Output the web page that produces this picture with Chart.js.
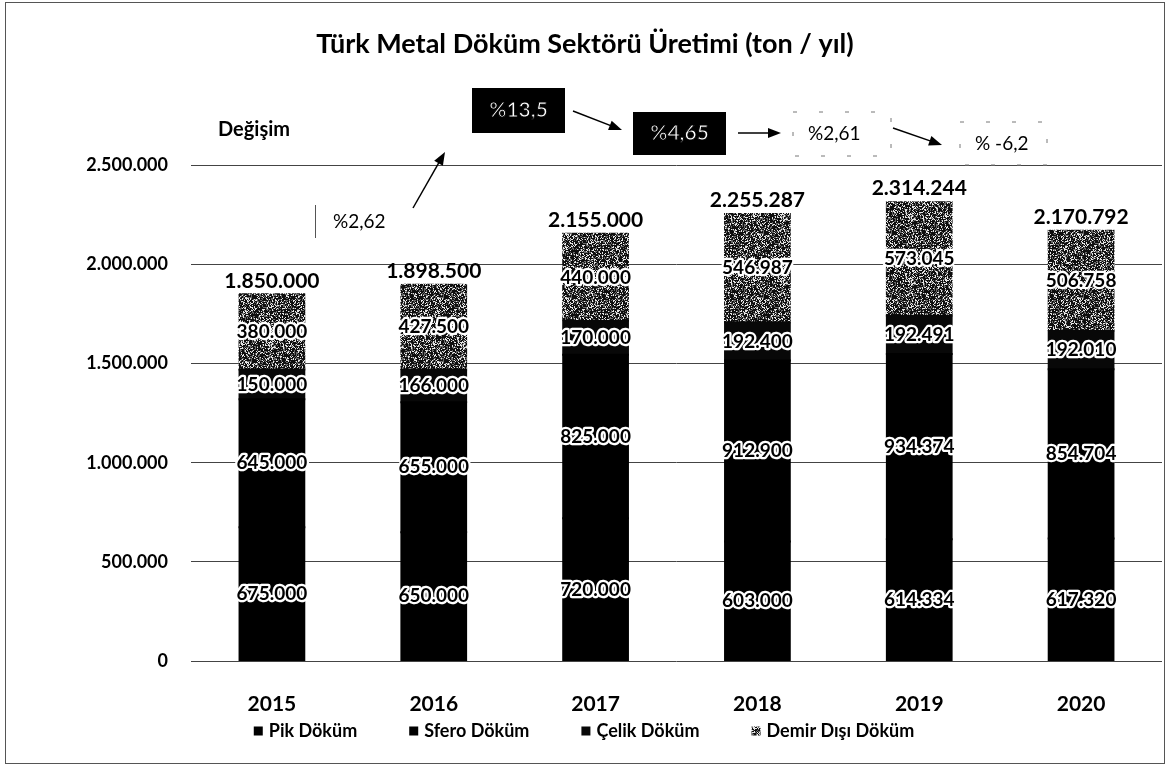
<!DOCTYPE html>
<html lang="tr">
<head>
<meta charset="utf-8">
<title>Türk Metal Döküm Sektörü Üretimi</title>
<script src="https://cdn.jsdelivr.net/npm/chart.js@4/dist/chart.umd.min.js"></script>
<style>
  html, body { margin: 0; padding: 0; background: #fff; }
  #kutu { position: relative; width: 1166px; height: 766px; }
  #cerceve {
    position: absolute; left: 5px; top: 2px; width: 1160px; height: 762px;
    border: 1px solid #555; box-sizing: border-box; pointer-events: none;
  }
</style>
</head>
<body>
<div id="kutu">
  <canvas id="uretimGrafik" width="1166" height="766"></canvas>
  <div id="cerceve"></div>
</div>
<script>
// yıllara göre üretim (ton)
const yillar = ['2015', '2016', '2017', '2018', '2019', '2020'];
const pikDokum = [675000, 650000, 720000, 603000, 614334, 617320];
const sferoDokum = [645000, 655000, 825000, 912900, 934374, 854704];
const celikDokum = [150000, 166000, 170000, 192400, 192491, 192010];
const demirDisiDokum = [380000, 427500, 440000, 546987, 573045, 506758];
const toplamUretim = [1850000, 1898500, 2155000, 2255287, 2314244, 2170792];
// bir önceki yıla göre değişim
const degisimOranlari = ['%2,62', '%13,5', '%4,65', '%2,61', '% -6,2'];
const eksenEtiketleri = [0, 500000, 1000000, 1500000, 2000000, 2500000];

const YAZI = 'Lato, "Open Sans", sans-serif';

function binlik(n) {
  return String(Math.round(n)).replace(/\B(?=(\d{3})+(?!\d))/g, '.');
}

// taranmış baskı gibi noktalı gri doku
function noktaliDoku(beyazOran, griOran) {
  const c = document.createElement('canvas');
  c.width = c.height = 64;
  const g = c.getContext('2d');
  const img = g.createImageData(64, 64);
  let s = 12345;
  for (let i = 0; i < 64 * 64; i++) {
    s ^= s << 13; s ^= s >>> 17; s ^= s << 5;
    const r = ((s >>> 0) % 1000) / 1000;
    const v = r < beyazOran ? 230 : (r < beyazOran + griOran ? 105 : 15);
    img.data[i * 4] = img.data[i * 4 + 1] = img.data[i * 4 + 2] = v;
    img.data[i * 4 + 3] = 255;
  }
  g.putImageData(img, 0, 0);
  return g.createPattern(c, 'repeat');
}

const ctx = document.getElementById('uretimGrafik').getContext('2d');
const demirDoku = noktaliDoku(0.22, 0.22);

// çubuk içi değerler ve toplamlar
const etiketEklentisi = {
  id: 'etiketler',
  afterDatasetsDraw(chart) {
    const g = chart.ctx;
    g.save();
    g.textAlign = 'center';
    g.textBaseline = 'middle';
    g.font = 'bold 19px ' + YAZI;
    g.lineJoin = 'round';
    chart.data.datasets.forEach((ds, i) => {
      chart.getDatasetMeta(i).data.forEach((bar, j) => {
        const y = (bar.y + bar.base) / 2;
        const t = binlik(ds.data[j]);
        g.strokeStyle = '#fff';
        g.lineWidth = 4.5;
        g.strokeText(t, bar.x, y);
        g.fillStyle = '#000';
        g.fillText(t, bar.x, y);
      });
    });
    const ys = chart.scales.y;
    const ust = chart.getDatasetMeta(chart.data.datasets.length - 1).data;
    g.font = 'bold 21px ' + YAZI;
    g.textBaseline = 'bottom';
    g.fillStyle = '#000';
    ust.forEach((bar, j) => {
      g.fillText(binlik(toplamUretim[j]), bar.x, ys.getPixelForValue(toplamUretim[j]) - 3);
    });
    g.restore();
  }
};

function ok(g, x1, y1, x2, y2) {
  const a = Math.atan2(y2 - y1, x2 - x1);
  g.beginPath();
  g.moveTo(x1, y1);
  g.lineTo(x2 - 8 * Math.cos(a), y2 - 8 * Math.sin(a));
  g.lineWidth = 1.5;
  g.strokeStyle = '#000';
  g.stroke();
  g.beginPath();
  g.moveTo(x2, y2);
  g.lineTo(x2 - 13 * Math.cos(a) + 5 * Math.sin(a), y2 - 13 * Math.sin(a) - 5 * Math.cos(a));
  g.lineTo(x2 - 13 * Math.cos(a) - 5 * Math.sin(a), y2 - 13 * Math.sin(a) + 5 * Math.cos(a));
  g.closePath();
  g.fillStyle = '#000';
  g.fill();
}

function siyahKutu(g, x, y, w, h, metin) {
  g.fillStyle = '#000';
  g.fillRect(x, y, w, h);
  g.font = 'bold 21px ' + YAZI;
  g.textAlign = 'center';
  g.textBaseline = 'middle';
  g.fillStyle = '#fff';
  g.fillText(metin, x + w / 2, y + h / 2);
  g.lineWidth = 1;
  g.strokeStyle = '#000';
  g.strokeText(metin, x + w / 2, y + h / 2);
}

function kesikKutu(g, x, y, w, h, metin, tx) {
  g.save();
  g.setLineDash([4, 22]);
  g.strokeStyle = '#777';
  g.lineWidth = 1;
  g.strokeRect(x, y, w, h);
  g.restore();
  g.font = '19px ' + YAZI;
  g.textAlign = 'left';
  g.textBaseline = 'middle';
  g.fillStyle = '#000';
  g.fillText(metin, tx, y + h / 2);
}

// değişim kutuları, oklar ve lejant
const aciklamaEklentisi = {
  id: 'aciklamalar',
  afterDraw(chart) {
    const g = chart.ctx;
    g.save();
    g.font = 'bold 20px ' + YAZI;
    g.textAlign = 'left';
    g.textBaseline = 'middle';
    g.fillStyle = '#000';
    g.fillText('Değişim', 218, 130);

    g.beginPath();
    g.moveTo(315.5, 205);
    g.lineTo(315.5, 238);
    g.strokeStyle = '#555';
    g.lineWidth = 1;
    g.stroke();
    g.font = '19px ' + YAZI;
    g.fillText(degisimOranlari[0], 333, 222);
    ok(g, 413, 208, 445, 152);

    siyahKutu(g, 472, 88, 93, 45, degisimOranlari[1]);
    ok(g, 573, 111, 622, 130);
    siyahKutu(g, 633, 112, 93, 43, degisimOranlari[2]);
    ok(g, 738, 133, 781, 133);
    kesikKutu(g, 793, 112, 98, 44, degisimOranlari[3], 808);
    ok(g, 893, 128, 942, 145);
    kesikKutu(g, 960, 122, 87, 43, degisimOranlari[4], 975);

    // lejant
    const ds = chart.data.datasets;
    g.font = 'bold 18px ' + YAZI;
    const kutu = 9, ara = 6, bosluk = 52;
    const genislik = ds.reduce((t, d) => t + kutu + ara + g.measureText(d.label).width, 0) + bosluk * (ds.length - 1);
    let x = 584 - genislik / 2;
    const y = 731;
    ds.forEach(d => {
      g.fillStyle = d.backgroundColor;
      g.fillRect(x, y - kutu / 2, kutu, kutu);
      x += kutu + ara;
      g.fillStyle = '#000';
      g.fillText(d.label, x, y);
      x += g.measureText(d.label).width + bosluk;
    });
    g.restore();
  }
};

const ortak = { barPercentage: 0.4, categoryPercentage: 1.0, borderWidth: 0, inflateAmount: 1 };

new Chart(ctx, {
  type: 'bar',
  data: {
    labels: yillar,
    datasets: [
      { label: 'Pik Döküm', data: pikDokum, backgroundColor: '#000', ...ortak },
      { label: 'Sfero Döküm', data: sferoDokum, backgroundColor: '#000', ...ortak },
      { label: 'Çelik Döküm', data: celikDokum, backgroundColor: '#080808', ...ortak },
      { label: 'Demir Dışı Döküm', data: demirDisiDokum, backgroundColor: demirDoku, ...ortak }
    ]
  },
  options: {
    responsive: false,
    animation: false,
    layout: { padding: { top: 8, left: 8, right: 4, bottom: 0 } },
    scales: {
      x: {
        stacked: true,
        grid: { display: false },
        border: { display: false },
        ticks: { color: '#000', font: { family: YAZI, size: 21, weight: 'bold' }, padding: 23 },
        afterFit(s) { s.height = 105; }
      },
      y: {
        stacked: true,
        min: 0,
        max: eksenEtiketleri[eksenEtiketleri.length - 1],
        afterBuildTicks(s) { s.ticks = eksenEtiketleri.map(v => ({ value: v })); },
        grid: { color: '#444', lineWidth: 1, drawTicks: false },
        border: { display: false },
        ticks: {
          color: '#000',
          font: { family: YAZI, size: 18, weight: 'bold' },
          padding: 23,
          callback: v => binlik(v)
        },
        afterFit(s) { s.width = 183; }
      }
    },
    plugins: {
      legend: { display: false },
      tooltip: { enabled: false },
      title: {
        display: true,
        text: 'Türk Metal Döküm Sektörü Üretimi (ton / yıl)',
        color: '#000',
        font: { family: YAZI, size: 27, weight: 'bold' },
        padding: { top: 20, bottom: 105 }
      }
    }
  },
  plugins: [etiketEklentisi, aciklamaEklentisi]
});
</script>
</body>
</html>
